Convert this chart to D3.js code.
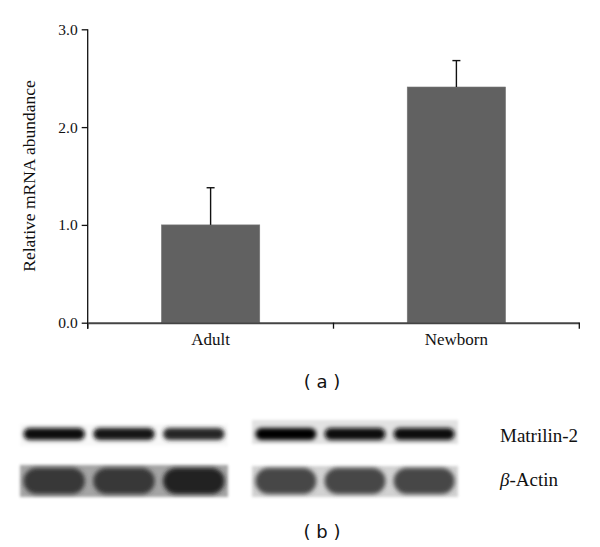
<!DOCTYPE html>
<html lang="en">
<head>
    <meta charset="UTF-8">
    <title>Matrilin-2 mRNA</title>
    <script src="https://d3js.org/d3.v7.min.js"></script>
    <style>
        body { margin: 0; background: #fff; }
        .serif { font-family: "Liberation Serif", "DejaVu Serif", serif; fill: #111; }
        .sans { font-family: "DejaVu Sans", "Noto Sans", sans-serif; fill: #111; }
    </style>
</head>
<body>
    <svg></svg>

    <script>
        const width = 600, height = 547;

        // bar chart data
        const categories = ["Adult", "Newborn"];
        const values = [1.0, 2.41];
        const errors = [0.38, 0.27];
        const yTicks = [0, 1, 2, 3];

        // blot band strengths (0 = white, 1 = black), three lanes per panel
        const matrilinBands = [0.97, 0.93, 0.85, 0.98, 0.97, 0.96];
        const actinBands = [0.78, 0.78, 0.86, 0.72, 0.72, 0.72];
        const blotLabels = ["Matrilin-2", "-Actin"];

        const svg = d3.select("svg")
            .attr("width", width)
            .attr("height", height);

        const x_scale = d3.scaleBand().domain(categories)
            .range([87.7, 579.3]).paddingInner(0.6).paddingOuter(0.3);
        const edges = d3.scaleBand().domain(categories).range([87.7, 579.3]);
        const y_scale = d3.scaleLinear().domain([0, 3]).range([322.7, 29.3]);

        // bars
        svg.selectAll("rect.bar")
            .data(values)
            .join("rect")
            .attr("class", "bar")
            .attr("fill", "#616161")
            .attr("stroke", "#777")
            .attr("stroke-width", 0.6)
            .attr("x", (d, i) => x_scale(categories[i]))
            .attr("y", d => y_scale(d))
            .attr("width", x_scale.bandwidth())
            .attr("height", d => y_scale(0) - y_scale(d));

        // error bars (upper only)
        const err = svg.append("g").attr("stroke", "#111").attr("stroke-width", 1.4);
        values.forEach((v, i) => {
            const cx = x_scale(categories[i]) + x_scale.bandwidth() / 2;
            err.append("line").attr("x1", cx).attr("x2", cx)
                .attr("y1", y_scale(v)).attr("y2", y_scale(v + errors[i]));
            err.append("line").attr("x1", cx - 4).attr("x2", cx + 4)
                .attr("y1", y_scale(v + errors[i])).attr("y2", y_scale(v + errors[i]));
        });

        // y axis
        const yAxis = svg.append("g")
            .attr("transform", "translate(87.7,0)")
            .call(d3.axisLeft(y_scale).tickValues(yTicks).tickFormat(d3.format(".1f")).tickSize(6).tickSizeOuter(0));
        yAxis.select(".domain").remove();
        yAxis.append("line").attr("x1", 0).attr("x2", 0)
            .attr("y1", y_scale(3)).attr("y2", y_scale(0) + 6)
            .attr("stroke", "#111").attr("stroke-width", 1.3);
        yAxis.selectAll(".tick line").attr("stroke", "#111").attr("stroke-width", 1.3);
        yAxis.selectAll(".tick text").attr("class", "serif")
            .style("font-size", "15.5px").attr("x", -10);

        // x axis
        const xAxis = svg.append("g")
            .attr("transform", `translate(0,${y_scale(0)})`)
            .call(d3.axisBottom(x_scale).tickSize(0).tickPadding(10));
        xAxis.select(".domain").attr("stroke", "#444").attr("stroke-width", 2);
        xAxis.selectAll(".tick text").attr("class", "serif").style("font-size", "17px");
        const bounds = categories.map(c => edges(c)).concat([edges.range()[1]]);
        xAxis.selectAll("line.edge")
            .data(bounds)
            .join("line")
            .attr("class", "edge")
            .attr("x1", d => d).attr("x2", d => d)
            .attr("y1", 0).attr("y2", 6)
            .attr("stroke", "#111").attr("stroke-width", 1.3);

        // y label
        svg.append("text")
            .attr("class", "serif")
            .attr("transform", "translate(35,176) rotate(-90)")
            .attr("text-anchor", "middle")
            .style("font-size", "17.5px")
            .text("Relative mRNA abundance");

        svg.append("text").attr("class", "sans")
            .attr("x", 322).attr("y", 388).attr("text-anchor", "middle")
            .style("font-size", "18px").attr("xml:space", "preserve")
            .text("( a )");

        // western blot
        const defs = svg.append("defs");
        defs.append("filter").attr("id", "blur").attr("x", "-20%").attr("y", "-60%")
            .attr("width", "140%").attr("height", "220%")
            .append("feGaussianBlur").attr("stdDeviation", 2.2);
        defs.append("filter").attr("id", "soft")
            .append("feGaussianBlur").attr("stdDeviation", 1.5);

        const panels = [[20, 228], [252, 458]];
        const rows = [
            { bands: matrilinBands, top: [[424, 446], [420, 444]], bg: ["#f8f8f8", "#e2e2e2"], h: 12, cy: 434 },
            { bands: actinBands, top: [[465, 497], [466, 497]], bg: ["#a4a4a4", "#d2d2d2"], h: 26, cy: 481 }
        ];
        const grey = d3.scaleLinear().domain([0, 1]).range(["#ffffff", "#000000"]);

        rows.forEach(row => {
            panels.forEach((p, pi) => {
                svg.append("rect")
                    .attr("x", p[0]).attr("y", row.top[pi][0])
                    .attr("width", p[1] - p[0]).attr("height", row.top[pi][1] - row.top[pi][0])
                    .attr("fill", row.bg[pi]).attr("filter", "url(#soft)");
                const lane = d3.scaleBand().domain([0, 1, 2]).range(p).paddingInner(0.12).paddingOuter(0.05);
                svg.selectAll(null)
                    .data(row.bands.slice(pi * 3, pi * 3 + 3))
                    .join("rect")
                    .attr("x", (d, i) => lane(i))
                    .attr("y", row.cy - row.h / 2)
                    .attr("width", lane.bandwidth())
                    .attr("height", row.h)
                    .attr("rx", row.h / 2)
                    .attr("fill", d => grey(d))
                    .attr("filter", "url(#blur)");
            });
        });

        svg.append("text").attr("class", "serif")
            .attr("x", 500).attr("y", 442).style("font-size", "19px")
            .text(blotLabels[0]);
        const actin = svg.append("text").attr("class", "serif")
            .attr("x", 500).attr("y", 486).style("font-size", "19px");
        actin.append("tspan").style("font-style", "italic").text("β");
        actin.append("tspan").text(blotLabels[1]);

        svg.append("text").attr("class", "sans")
            .attr("x", 322).attr("y", 538).attr("text-anchor", "middle")
            .style("font-size", "18px").attr("xml:space", "preserve")
            .text("( b )");
    </script>
</body>
</html>
